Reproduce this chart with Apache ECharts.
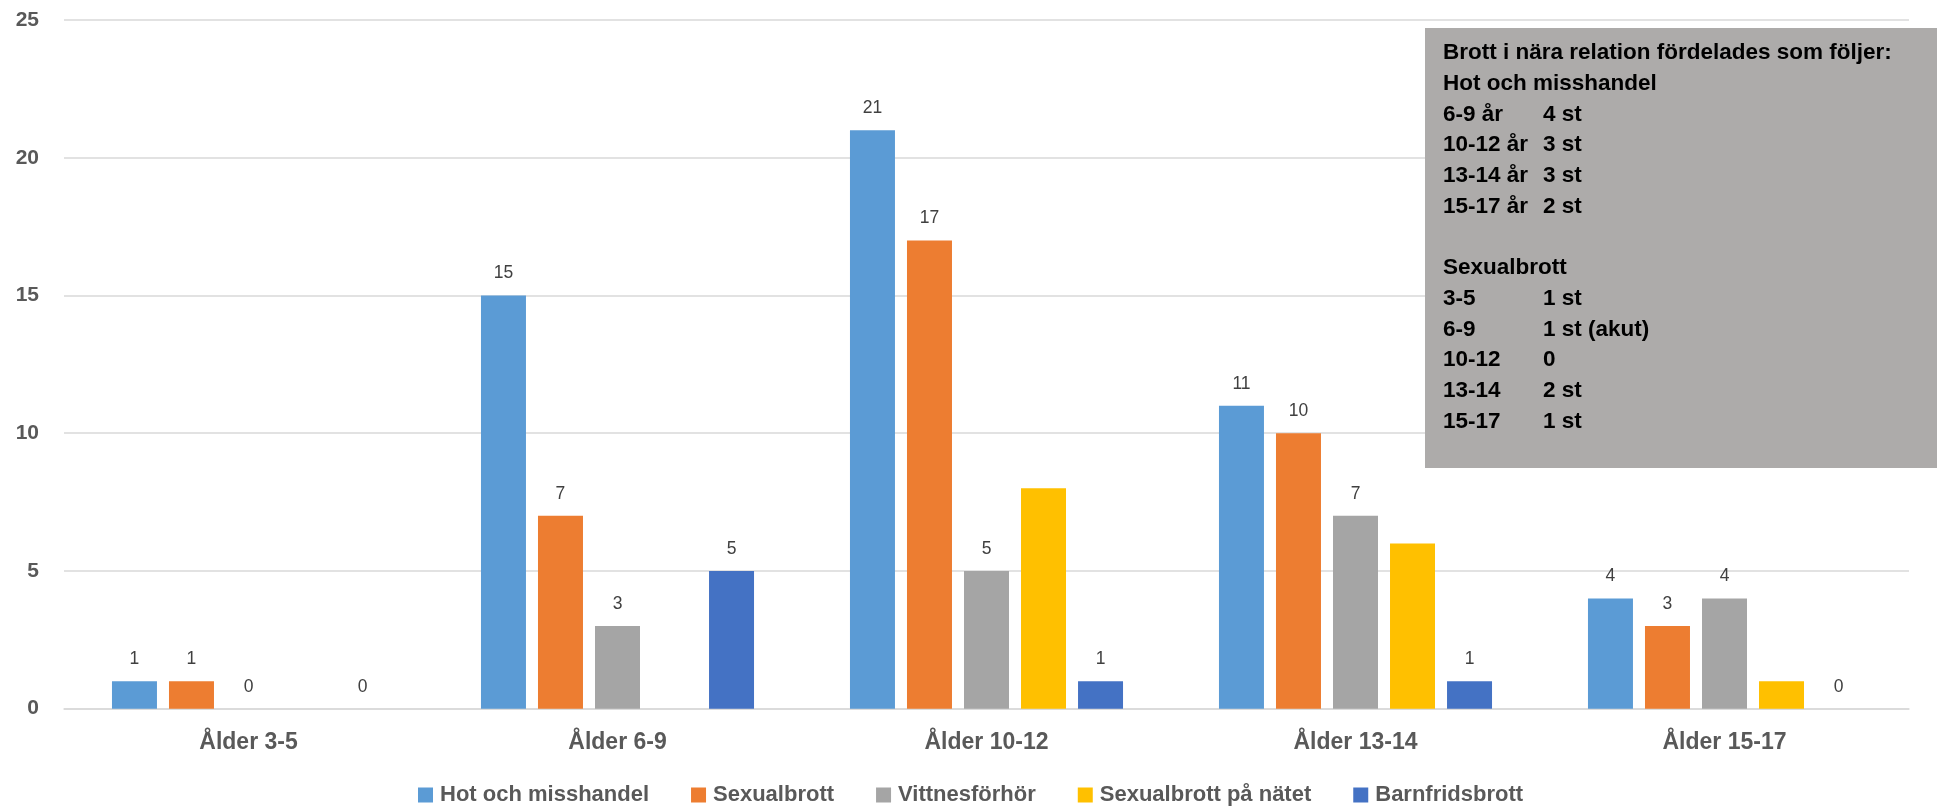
<!DOCTYPE html>
<html>
<head>
<meta charset="utf-8">
<script src="https://cdn.jsdelivr.net/npm/echarts@6/dist/echarts.min.js"></script>
<style>
html,body{margin:0;padding:0;background:#fff;}
#chart{width:1937px;height:808px;}
</style>
</head>
<body>
<div id="chart"></div>
<script>
const categories = ['Ålder 3-5', 'Ålder 6-9', 'Ålder 10-12', 'Ålder 13-14', 'Ålder 15-17'];
const seriesNames = ['Hot och misshandel', 'Sexualbrott', 'Vittnesförhör', 'Sexualbrott på nätet', 'Barnfridsbrott'];
const hotOchMisshandel = [1, 15, 21, 11, 4];
const sexualbrott = [1, 7, 17, 10, 3];
const vittnesforhor = [0, 3, 5, 7, 4];
const sexualbrottPaNatet = [null, null, 8, 6, 1];
const barnfridsbrott = [0, 5, 1, 1, 0];
const seriesValues = [hotOchMisshandel, sexualbrott, vittnesforhor, sexualbrottPaNatet, barnfridsbrott];
const seriesColors = ['#5B9BD5', '#ED7D31', '#A5A5A5', '#FFC000', '#4472C4'];
const showLabels = [true, true, true, false, true];
const yTicks = [0, 5, 10, 15, 20, 25];

const noteLeft = [
  'Brott i nära relation fördelades som följer:',
  'Hot och misshandel',
  '6-9 år', '10-12 år', '13-14 år', '15-17 år',
  '',
  'Sexualbrott',
  '3-5', '6-9', '10-12', '13-14', '15-17'
];
const noteRight = [
  '', '',
  '4 st', '3 st', '3 st', '2 st',
  '',
  '',
  '1 st', '1 st (akut)', '0', '2 st', '1 st'
];

const FONT = '"Liberation Sans", Arial, sans-serif';
const chart = echarts.init(document.getElementById('chart'), null, {renderer: 'canvas'});

const noteElements = [{
  type: 'rect',
  shape: {x: 1425, y: 28, width: 512, height: 440},
  style: {fill: '#ADABAA'},
  z: 10
}];
noteLeft.forEach((t, i) => {
  const y = 53 + 30.7 * i;
  if (t) noteElements.push({type: 'text', x: 1443, y: y, z: 11,
    style: {text: t, font: 'bold 22.5px ' + FONT, fill: '#000', verticalAlign: 'middle'}});
  if (noteRight[i]) noteElements.push({type: 'text', x: 1543, y: y, z: 11,
    style: {text: noteRight[i], font: 'bold 22.5px ' + FONT, fill: '#000', verticalAlign: 'middle'}});
});

const option = {
  animation: false,
  backgroundColor: '#fff',
  grid: {left: 64, right: 28, top: 20, height: 688.7, containLabel: false},
  legend: {
    data: seriesNames,
    left: 413,
    top: 779,
    icon: 'rect',
    itemWidth: 15,
    itemHeight: 15,
    itemGap: 42,
    textStyle: {fontFamily: FONT, fontSize: 22, fontWeight: 'bold', color: '#595959', padding: [0, 0, 0, 2]}
  },
  xAxis: {
    type: 'category',
    data: categories,
    axisLine: {show: true, lineStyle: {color: '#D9D9D9', width: 1.5}},
    axisTick: {show: false},
    axisLabel: {fontFamily: FONT, fontSize: 23, fontWeight: 'bold', color: '#595959', margin: 22}
  },
  yAxis: {
    type: 'value',
    min: yTicks[0],
    max: yTicks[yTicks.length - 1],
    interval: 5,
    axisLine: {show: false},
    axisTick: {show: false},
    splitLine: {lineStyle: {color: '#D9D9D9', width: 1.5}},
    axisLabel: {fontFamily: FONT, fontSize: 21, fontWeight: 'bold', color: '#595959', margin: 25}
  },
  series: seriesNames.map((name, i) => ({
    name: name,
    type: 'bar',
    data: seriesValues[i],
    barWidth: 45,
    barGap: '26.7%',
    itemStyle: {color: seriesColors[i]},
    label: {
      show: showLabels[i],
      position: 'top',
      distance: 13,
      fontFamily: FONT,
      fontSize: 17.5,
      color: '#404040'
    }
  })),
  graphic: noteElements
};
chart.setOption(option);
</script>
</body>
</html>
